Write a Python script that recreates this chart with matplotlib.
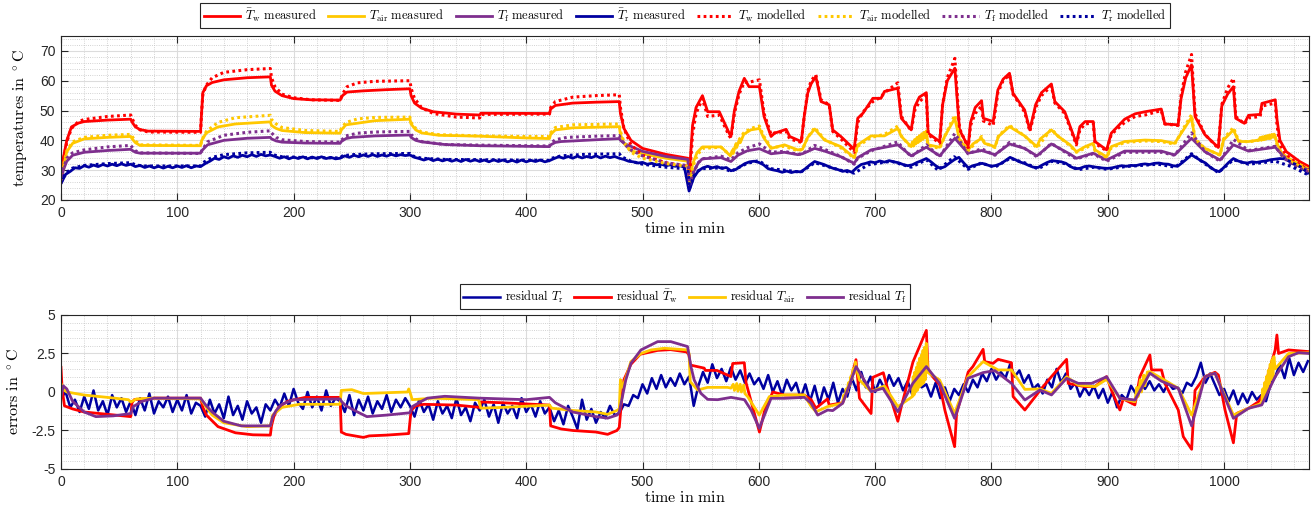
import numpy as np
import matplotlib
matplotlib.use('Agg')
import matplotlib.pyplot as plt
from matplotlib.ticker import MultipleLocator

plt.rcParams['mathtext.fontset'] = 'cm'
plt.rcParams['font.family'] = ['Liberation Sans', 'DejaVu Sans']
plt.rcParams['axes.unicode_minus'] = False

# ---------------- top: temperatures (time in min, value in degC) ----------------
tw_meas = [(0, 26), (2, 34), (5, 40), (9, 44.5), (15, 45.8), (20, 46.3), (40, 46.8), (60, 47.1), (61, 46.2), (64, 44.5),
           (68, 43.6), (75, 43.1), (120, 43.0), (121, 50), (122, 56), (125, 58.3), (130, 59.4), (140, 60.3), (160, 61.0),
           (180, 61.3), (181, 58.5), (184, 56.5), (190, 55), (200, 54), (215, 53.6), (240, 53.5), (242, 55), (246, 56.2),
           (260, 56.6), (280, 57), (300, 57.3), (301, 55), (304, 52.5), (310, 50.8), (320, 49.6), (340, 48.8), (360, 48.5),
           (361, 49.1), (420, 49.0), (421, 50.5), (425, 51.7), (440, 52.5), (460, 52.8), (480, 53.0), (481, 49), (484, 44),
           (490, 40), (500, 37.3), (520, 35.3), (539, 34), (540.5, 30), (543, 45), (546, 51), (551.5, 55), (556, 49.6),
           (566, 49.6), (574.5, 42.4), (576, 41.3), (579, 50), (583, 56.5), (587.5, 60.8), (591.5, 58), (600.5, 58),
           (604.5, 48), (610.5, 41.3), (613.5, 42.4), (623.5, 43.7), (626.5, 41.3), (636.5, 39.6), (639, 48), (642, 55.8),
           (645, 59), (649, 61.4), (653.5, 53), (660.5, 51.9), (663.5, 43.5), (670.5, 41.3), (682, 37), (685, 47.4),
           (689.5, 49.1), (698, 54.1), (705, 54.1), (708, 56.4), (719.5, 57.5), (722.5, 47.4), (731, 43.5), (734, 51.3),
           (738, 54.5), (744, 56), (745.5, 42.4), (755.5, 39.6), (758, 52), (762, 60), (768.5, 64.2), (772.5, 43.5),
           (780, 37.9), (782, 46), (786, 51), (791.5, 53.3), (793, 47.4), (801.5, 46.3), (805.5, 56.9), (810, 60.5),
           (815.5, 62.5), (818.5, 55.8), (828.5, 50.2), (833, 43.5), (838, 52), (843, 56), (851.5, 58.9), (854.5, 53),
           (863, 49.6), (873, 39), (876, 44.6), (880.5, 46.3), (887.5, 46.3), (889, 39.6), (899, 36.8), (903, 42.4),
           (914.5, 47.1), (923.5, 48.9), (932, 49.6), (946, 50.5), (949, 45.5), (960.5, 45.2), (963, 54), (967, 61),
           (972, 65.3), (975, 48), (983.5, 41.9), (995, 37.6), (998, 51.5), (1003, 55.5), (1008, 58), (1010, 47.4),
           (1017.5, 45.7), (1021, 48.4), (1031, 48.7), (1032.5, 52.4), (1044, 53.6), (1045.5, 47), (1048, 40),
           (1053.5, 36.2), (1065, 32.9), (1073, 31.2)]

tw_mod = [(0, 26), (2, 33), (5, 39.5), (9, 44), (15, 46.3), (20, 47), (40, 48), (60, 48.5), (61, 47.5), (64, 45),
          (68, 43.5), (75, 42.8), (120, 42.7), (121, 50), (122, 55.5), (125, 58.5), (130, 61), (140, 62.8), (160, 63.7),
          (180, 64.1), (181, 61), (184, 58), (190, 55.5), (200, 54.3), (215, 53.6), (240, 53.4), (242, 55.5), (246, 58),
          (255, 59.3), (270, 59.8), (300, 60.0), (301, 57.5), (304, 54), (310, 51), (320, 49), (340, 47.8), (360, 47.5),
          (361, 48.7), (420, 48.8), (421, 51), (425, 53), (440, 54.5), (460, 55), (480, 55.3), (481, 51), (484, 44),
          (490, 38.5), (500, 35), (520, 32.5), (539, 31.3), (540.5, 28), (543, 42), (546, 49), (551.5, 54), (556, 48),
          (566, 48.5), (574.5, 41.5), (576, 40.8), (579, 49), (583, 55.5), (587.5, 59.5), (591.5, 59.5), (600.5, 60.3),
          (604.5, 49), (610.5, 42), (613.5, 42.5), (623.5, 43), (626.5, 40.5), (636.5, 39.3), (639, 48), (642, 56.5),
          (645, 60), (649, 62), (653.5, 53.5), (660.5, 52), (663.5, 43), (670.5, 40.5), (682, 36), (685, 46),
          (689.5, 49.5), (698, 53), (705, 54.5), (708, 56), (719.5, 59.3), (722.5, 48), (731, 43.2), (734, 50),
          (738, 53), (744, 55), (745.5, 42), (755.5, 39), (758, 52), (762, 61), (768.5, 67.5), (772.5, 44), (780, 37.5),
          (782, 45), (786, 49), (791.5, 51.5), (793, 46.5), (801.5, 45), (805.5, 56), (810, 60), (815.5, 62),
          (818.5, 55.5), (828.5, 49.5), (833, 43), (838, 51), (843, 55), (851.5, 58.3), (854.5, 52.5), (863, 49),
          (873, 38.5), (876, 43.5), (880.5, 45.5), (887.5, 45.8), (889, 39), (899, 36.5), (903, 42), (914.5, 46),
          (923.5, 48), (932, 48.5), (946, 50), (949, 45.5), (960.5, 45), (963, 55), (967, 63), (972, 68.8), (975, 49),
          (983.5, 42), (995, 37.3), (998, 52), (1003, 57.5), (1008, 60.8), (1010, 48), (1017.5, 45.5), (1021, 47.5),
          (1031, 48), (1032.5, 51.5), (1044, 52.5), (1045.5, 45), (1048, 38.5), (1053.5, 35), (1065, 31.8), (1073, 30)]

tair_meas = [(0, 26), (2, 31), (5, 36.2), (10, 39), (20, 40.5), (40, 41), (60, 41.3), (61, 40.6), (64, 39.2), (68, 38.3),
             (120, 38.2), (121, 40), (125, 42.5), (135, 44.5), (150, 45.5), (180, 46.2), (181, 45), (185, 44),
             (190, 43.3), (210, 42.6), (240, 42.4), (241, 43.5), (245, 45.2), (270, 46.6), (300, 47.1), (301, 45.5),
             (305, 43.5), (310, 42.5), (325, 41.7), (360, 41.4), (400, 40.8), (420, 40.6), (421, 42), (425, 43.5),
             (440, 44.2), (480, 44.6), (481, 42), (484, 39), (490, 36.5), (500, 35.5), (520, 34), (539, 33),
             (540.5, 25), (543, 32), (547, 36), (551.5, 37.8), (567.5, 37.8), (575.5, 34.8), (577, 36.5), (578, 35.6),
             (580, 38.5), (581, 37.6), (583, 40), (584, 39.2), (587, 42), (593, 43.5), (600.5, 44), (604, 41),
             (610.5, 37.3), (622, 38.5), (633.5, 36.8), (637.5, 37), (642, 41), (648, 43.8), (656.5, 40.1),
             (670.5, 37.9), (682, 34.2), (685, 38.5), (696.5, 41.5), (708, 41.5), (719.5, 44), (722.5, 41.3),
             (731, 37.9), (732, 39.5), (733, 38.3), (734, 40.3), (735, 38.8), (736, 41), (737, 39.3), (738, 41.6),
             (739, 39.8), (740, 42.2), (741, 40.3), (742, 42.7), (743, 40.8), (744, 43.2), (745.5, 38.5), (755.5, 37.7),
             (760, 41.5), (768.5, 47.4), (772.5, 40.1), (780, 36.8), (784, 38.8), (791.5, 40.7), (794, 39), (803, 37.9),
             (806, 41.3), (815.5, 44.6), (828.5, 41.5), (839, 37.9), (842, 40.5), (851.5, 43.5), (857.5, 41.3),
             (867.5, 38.5), (873, 36.2), (880.5, 37.9), (887.5, 39), (889, 36.8), (899, 34.5), (903, 37.9),
             (914.5, 39.6), (932, 40.1), (946, 39.9), (957.5, 39), (965, 43.5), (972, 47.7), (975, 40.1), (983.5, 37.3),
             (996.5, 35.1), (999.5, 40.1), (1008, 43.5), (1012.5, 39.6), (1021, 39.6), (1030, 40.1), (1031, 41),
             (1032, 40), (1033, 41.2), (1034, 40.2), (1035, 41.4), (1036, 40.4), (1037, 41.6), (1038, 40.6),
             (1039, 41.8), (1040, 40.8), (1041, 42), (1042, 41), (1043, 42.1), (1044, 41.3), (1045.5, 39),
             (1049.5, 35.7), (1058, 33.4), (1073, 30.3)]

tair_mod = [(0, 26), (2, 31.5), (5, 36.5), (10, 39.5), (20, 41), (40, 41.7), (60, 42), (61, 41.4), (64, 39.8), (68, 38.5),
            (120, 38.3), (121, 40), (125, 43), (135, 46), (150, 47.6), (180, 48.4), (181, 47), (185, 45.5), (190, 44.3),
            (210, 43.3), (240, 43), (241, 44), (245, 46), (255, 47.2), (270, 47.7), (300, 47.8), (301, 46), (305, 44),
            (310, 42.8), (325, 41.9), (360, 41.5), (400, 41.3), (420, 41.3), (421, 42.5), (425, 44.3), (440, 45.2),
            (480, 45.5), (481, 43), (484, 39.5), (490, 36), (500, 34), (520, 32.2), (539, 31.3), (540.5, 26), (543, 31),
            (547, 35), (551.5, 37.3), (567.5, 37.7), (575.5, 35), (580, 38.5), (587, 42.5), (593, 44), (600.5, 44.8),
            (604, 41.5), (610.5, 37.6), (622, 38), (633.5, 36.5), (637.5, 37), (642, 41), (648, 44.3), (656.5, 40.3),
            (670.5, 37.5), (682, 34), (685, 38), (696.5, 41), (708, 42), (719.5, 44.8), (722.5, 41.5), (731, 37.5),
            (744, 42), (745.5, 38.3), (755.5, 37.3), (760, 41.5), (768.5, 48.5), (772.5, 40.5), (780, 36.5),
            (791.5, 41.3), (794, 39.2), (803, 37.6), (806, 41.5), (815.5, 45), (828.5, 41.5), (839, 37.5),
            (851.5, 43.8), (857.5, 41.3), (867.5, 38.2), (873, 36), (887.5, 38.7), (889, 36.5), (899, 34.2),
            (903, 37.5), (914.5, 39.3), (932, 39.8), (946, 39.6), (957.5, 38.7), (965, 44), (972, 48.6), (975, 40.5),
            (983.5, 37.3), (996.5, 35), (999.5, 40.5), (1008, 44.3), (1012.5, 39.8), (1021, 39.5), (1044, 41),
            (1045.5, 38.6), (1049.5, 35), (1058, 32.8), (1073, 29.7)]

tf_meas = [(0, 26), (2, 30), (5, 33), (10, 35), (20, 36), (40, 36.6), (60, 37), (61, 36.7), (64, 36), (68, 35.7),
           (120, 35.7), (121, 36.5), (126, 38.5), (140, 40), (160, 40.7), (180, 41), (181, 40.5), (185, 39.8),
           (190, 39.4), (210, 39.1), (240, 39), (241, 39.6), (245, 40.6), (250, 41), (270, 41.5), (300, 41.8),
           (301, 41), (305, 40), (310, 39.5), (330, 38.6), (360, 38.2), (420, 37.9), (421, 38.5), (425, 39.3),
           (430, 39.6), (460, 40.2), (480, 40.6), (481, 40), (485, 38.8), (490, 38), (500, 36.3), (520, 34.6),
           (539, 33.6), (540.5, 24.5), (544, 29.5), (548, 32.5), (551.5, 33.8), (567.5, 34.2), (576, 32.9), (582, 35),
           (590, 36.5), (600.5, 37.2), (610.5, 35.5), (622, 36), (633.5, 35.2), (637.5, 35.5), (648, 37.3),
           (656.5, 36.4), (670.5, 34.5), (682, 32.3), (685, 34.2), (696.5, 36.8), (719.5, 38.5), (722.5, 37.5),
           (731, 34.8), (744, 37.7), (755.5, 34.8), (768.5, 40.7), (779.8, 35.7), (791.5, 36.6), (803, 35.2),
           (815.5, 38.8), (828.5, 37.3), (839, 34.8), (851.5, 38.8), (867.5, 35.4), (873, 34), (887.5, 35.7),
           (899, 33.4), (914.5, 36.4), (946, 36.4), (957.5, 35.1), (972, 40.7), (983.5, 36.2), (996.5, 33.4),
           (1008, 38.5), (1021, 36.4), (1044, 37.7), (1049.5, 35.3), (1058, 32.3), (1073, 30)]

tf_mod = [(0, 26), (2, 30.5), (5, 34), (10, 35.8), (20, 36.8), (40, 37.8), (60, 38.3), (61, 37.8), (64, 36.5), (68, 35.8),
          (120, 35.6), (121, 36.5), (126, 39.5), (140, 41.7), (160, 42.7), (180, 43.2), (181, 42.5), (185, 41),
          (190, 40.2), (210, 39.6), (240, 39.4), (241, 40), (245, 41.5), (255, 42.4), (270, 42.8), (300, 43),
          (301, 42), (305, 40.5), (310, 39.6), (330, 38.6), (360, 38.4), (420, 38.1), (421, 39), (425, 40.2),
          (435, 41), (460, 41.4), (480, 41.6), (481, 40.5), (485, 38.5), (490, 36.8), (500, 34.8), (520, 32.5),
          (539, 31.5), (540.5, 25), (544, 29.5), (548, 32.5), (551.5, 33.8), (567.5, 34.7), (576, 33.5), (582, 35.8),
          (590, 37.5), (600.5, 38.8), (610.5, 36), (622, 36.3), (633.5, 35.3), (637.5, 35.5), (648, 38.3),
          (656.5, 37), (670.5, 34.6), (682, 32), (685, 34), (696.5, 36.5), (719.5, 39.5), (722.5, 38), (731, 34.5),
          (744, 38.5), (755.5, 34.5), (768.5, 42.3), (779.8, 35.5), (791.5, 37.2), (803, 35), (815.5, 39.3),
          (828.5, 37.3), (839, 34.5), (851.5, 39), (867.5, 35), (873, 33.8), (887.5, 35.5), (899, 33), (914.5, 36),
          (946, 36), (957.5, 35), (972, 42.5), (983.5, 36.2), (996.5, 33), (1008, 40.3), (1021, 36.6), (1044, 38),
          (1049.5, 35), (1058, 31.8), (1073, 29.3)]

# measured T_r, sampled every 4 min from 0 to 1072
tr_meas_t = np.arange(0, 1073, 4)
tr_meas_v = [25.5, 28.6, 29.6, 30.8, 30.6, 31.5, 31.0, 31.7, 31.2, 31.9, 31.4, 32.0, 31.5, 32.1, 31.6,
             32.0, 31.2, 31.6, 30.9, 31.4, 30.8, 31.3, 30.7, 31.3, 30.8, 31.4, 30.9, 31.5, 30.8, 31.4,
             31.2, 32.2, 33.0, 34.0, 33.6, 34.5, 34.0, 34.8, 34.3, 35.0, 34.5, 35.2, 34.6, 35.3, 34.8,
             35.1, 34.6, 34.0, 34.5, 33.8, 34.4, 33.9, 34.5, 33.8, 34.4, 33.9, 34.5, 33.9, 34.3, 33.8,
             34.0, 34.8, 34.3, 35.0, 34.5, 35.1, 34.6, 35.2, 34.6, 35.1, 34.7, 35.3, 34.8, 35.2, 34.9,
             35.1, 34.3, 33.9, 33.4, 33.9, 33.2, 33.7, 33.1, 33.6, 33.0, 33.5, 32.9, 33.6, 33.0, 33.5,
             32.9, 33.4, 32.8, 33.5, 32.9, 33.4, 32.8, 33.3, 32.7, 33.4, 32.8, 33.3, 32.9, 33.4, 32.8,
             33.2, 33.9, 34.5, 34.0, 34.6, 34.0, 34.7, 34.1, 34.6, 34.2, 34.8, 34.1, 34.7, 34.2, 34.6,
             34.0, 33.6, 33.0, 32.8, 32.4, 32.6, 32.0, 32.3, 31.8, 32.0, 31.5, 31.8, 31.3, 31.5, 31.0,
             23.0, 27.5, 29.8, 30.8, 31.3, 30.8, 31.2, 30.6, 30.9, 29.8, 30.2, 31.2, 32.2, 32.8, 33.0,
             32.6, 31.8, 30.5, 30.1, 29.8, 29.3, 29.7, 29.2, 29.6, 29.4, 30.5, 31.8, 32.9, 32.4, 31.9,
             31.2, 30.6, 30.2, 29.6, 29.9, 29.3, 30.8, 31.9, 32.3, 32.8, 32.5, 33.1, 32.7, 33.2, 32.8,
             32.5, 31.9, 31.5, 31.8, 32.6, 33.2, 33.9, 32.8, 31.5, 30.6, 31.2, 32.4, 33.5, 34.3, 32.5,
             30.8, 31.5, 31.9, 32.3, 31.8, 31.3, 31.6, 32.2, 33.2, 34.3, 33.6, 32.8, 32.3, 31.6, 31.0,
             30.9, 31.8, 32.6, 33.2, 33.0, 32.8, 32.3, 31.2, 30.5, 30.6, 31.2, 31.4, 31.1, 30.9, 30.7,
             30.6, 30.8, 31.2, 31.5, 31.3, 31.6, 31.5, 31.9, 32.1, 31.9, 32.3, 32.4, 32.1, 32.0, 31.5,
             31.3, 32.5, 33.8, 35.1, 34.2, 33.2, 32.4, 31.0, 30.0, 29.5, 31.0, 32.6, 33.9, 33.1, 32.6,
             32.4, 32.8, 32.6, 32.9, 33.1, 33.5, 33.7, 33.9, 33.8, 33.0, 32.2, 31.5, 30.5, 29.0]

tr_mod = [(0, 25.8), (4, 29), (10, 30.7), (20, 31.6), (40, 32.2), (60, 32.5), (64, 31.8), (70, 31.4), (120, 31.4),
          (122, 32.5), (130, 34.3), (140, 35.2), (160, 35.8), (180, 36), (182, 35.2), (190, 34.5), (210, 34.2),
          (240, 34.1), (242, 34.8), (250, 35.2), (270, 35.5), (300, 35.6), (302, 34.8), (310, 34), (330, 33.6),
          (360, 33.5), (420, 33.3), (422, 34), (430, 34.8), (450, 35.3), (480, 35.5), (482, 34.5), (490, 33),
          (500, 32), (520, 31), (539, 30.4), (540.5, 24), (544, 28), (548, 29.8), (552, 30.5), (568, 30.8),
          (576, 29.6), (590, 32.3), (600, 33.2), (610, 30.5), (622, 30), (636, 29.3), (648, 32.5), (670, 30),
          (682, 29), (694, 31.8), (714, 33), (722, 32), (731, 31), (744, 33.5), (754, 30), (768, 34.5), (780, 30.3),
          (791, 32.4), (803, 31), (816, 34), (829, 32.4), (840, 30.4), (852, 33), (863, 32.2), (875, 30.2),
          (888, 31), (899, 30.3), (915, 31.2), (943, 32), (958, 31), (972, 35.5), (984, 32), (995, 29.2),
          (1008, 33.5), (1021, 32), (1044, 33), (1058, 31.2), (1073, 28.3)]

# ---------------- bottom: residuals (degC) ----------------
res_tr_t = np.arange(0, 1073, 4)
res_tr_v = [-0.4, 0.0, -1.0, -0.5, -1.3, -0.3, -1.1, 0.1, -1.2, -0.6, -1.5, -0.2, -1.0, -0.4, -1.3,
            -0.6, -1.5, -0.4, -1.2, -0.1, -1.4, -0.6, -1.0, -0.3, -1.3, -0.5, -1.2, -0.2, -1.4, -0.7,
            -0.9, -1.6, -0.5, -1.4, -0.8, -1.7, -0.3, -1.5, -0.9, -1.8, -0.6, -1.4, -1.0, -2.0, -0.8,
            -1.2, -0.5, -1.0, -0.1, -0.9, 0.2, -0.7, -1.1, 0.0, -1.0, -0.3, -1.2, 0.1, -0.9, -0.4,
            -0.6, -1.3, -0.2, -1.5, -0.5, -1.2, -0.3, -1.4, -0.6, -1.1, -0.2, -1.3, -0.5, -1.0, -0.4,
            -0.9, -1.6, -0.5, -1.3, -0.8, -1.8, -0.6, -1.4, -0.9, -1.7, -0.4, -1.5, -1.0, -1.9, -0.7,
            -1.2, -0.5, -1.6, -0.8, -2.0, -0.7, -1.4, -0.9, -1.7, -0.4, -1.3, -0.8, -1.6, -0.6, -1.4,
            -1.0, -1.9, -1.2, -2.1, -0.9, -1.6, -2.4, -0.5, -1.8, -1.1, -2.0, -1.3, -1.7, -0.9, -1.5,
            -1.4, -0.8, -0.9, -0.2, -0.4, 0.5, -0.1, 0.9, 0.2, 1.1, 0.3, 0.9, 0.4, 1.2, 0.5,
            1.0, -0.9, 0.4, 1.3, 0.6, 1.8, 0.9, 1.5, 0.7, 1.6, 0.8, 1.4, 0.6, 1.2, 0.5,
            0.9, 0.2, 1.1, 0.0, 0.7, -0.2, 0.8, 0.1, 0.6, -0.4, 0.5, -0.6, 0.4, -0.8, 0.3,
            -0.5, 0.6, -0.7, 0.2, -0.3, 0.9, 0.1, 1.3, 0.3, 1.0, 0.0, 0.8, 0.2, 1.1, 0.4,
            0.9, 0.1, 0.7, -0.2, 0.8, 0.3, 0.5, -0.3, 0.6, -0.4, 0.3, -0.6, 0.2, -0.2, 0.5,
            0.0, 0.8, 0.3, 1.2, 0.7, 1.5, 0.8, 1.3, 0.9, 1.8, 1.0, 1.4, 0.6, 1.1, 0.2,
            0.5, -0.1, 0.8, 0.3, 1.5, 0.6, 1.2, 0.2, 0.6, -0.3, 0.3, -0.2, 0.4, -0.4, 0.2,
            -0.7, 0.0, -1.0, -0.2, -0.5, 0.4, -0.1, 0.6, 0.2, 0.7, 0.1, 0.5, 0.0, 0.6, 0.2,
            0.3, -0.1, 0.6, 0.4, 1.0, 1.9, 0.6, 1.2, 0.5, -0.2, 0.2, -0.6, 0.1, -0.8, -0.1,
            -0.7, 0.0, -0.5, -0.2, -0.6, 0.5, 1.0, 1.8, 0.9, 2.2, 1.1, 1.9, 1.3, 2.0]

res_tw = [(0, 1.6), (1, 0.2), (3, -0.9), (10, -1.1), (20, -1.3), (40, -1.45), (60, -1.6), (61, -0.7), (63, -0.5),
          (80, -0.4), (120, -0.4), (122, -1.0), (125, -1.5), (135, -2.25), (150, -2.65), (165, -2.78), (180, -2.8),
          (181, -2.2), (183, -1.6), (187, -1.0), (195, -0.6), (210, -0.35), (240, -0.35), (241, -2.6), (245, -2.75),
          (260, -2.95), (265, -2.85), (280, -2.8), (299, -2.7), (301, -1.2), (305, -0.9), (312, -0.8), (340, -0.85),
          (360, -1.0), (361, -0.65), (380, -0.7), (420, -0.85), (421, -2.2), (430, -2.4), (440, -2.5), (460, -2.6),
          (470, -2.75), (478, -2.5), (480, -2.3), (482, -0.5), (484, 0.8), (490, 1.8), (498, 2.45), (513, 2.7),
          (524, 2.75), (538, 2.6), (540, 2.4), (541, 1.75), (553, 1.55), (554, 1.4), (564, 1.4), (576, 1.0),
          (577.5, 1.85), (587.5, 1.9), (589, 0.6), (600.5, -2.6), (605, -1.2), (612, 0.0), (622, -0.2), (639, -0.2),
          (645, -0.5), (649, -1.05), (659, -0.45), (660.5, -0.85), (672, -0.7), (678, 0.5), (683.5, 2.1),
          (686.5, -0.4), (696.5, -1.4), (698, 0.95), (707, 1.25), (710, 0.4), (719.5, -1.9), (722.5, -0.95),
          (732.5, 1.95), (744, 4.0), (745.5, 1.35), (755.5, 0.45), (760, -1.2), (768.3, -3.55), (770, -1.4),
          (780, 1.3), (784, 1.65), (792.8, 2.77), (794.2, 1.97), (801.4, 1.86), (805.7, 2.12), (817.2, 1.9),
          (818.6, -0.3), (828.7, -1.17), (838.8, -0.19), (841.6, 0.1), (851.6, 1.0), (864.6, 2.12), (866, 0.56),
          (880, 0.35), (889, 0.35), (899, 1.0), (903.2, 0.1), (910.4, -1.17), (913.3, -0.45), (923.3, -0.84),
          (927.6, 0.99), (936.2, 2.4), (937.6, 1.43), (946.2, 1.43), (949.1, 0.56), (960.6, -1.17), (964.9, -2.9),
          (972.1, -3.72), (975, 0.1), (983.6, 1.0), (992.2, 1.28), (995.1, 1.1), (1000.8, -1.17), (1008, -3.3),
          (1010.9, -1.39), (1021, -1.06), (1029.6, -0.63), (1032.4, -0.3), (1043.9, 2.73), (1045.4, 3.7),
          (1046.8, 2.5), (1055.4, 2.73), (1073, 2.62)]

res_tair = [(0, 0.55), (3, 0.1), (5, 0.0), (20, -0.2), (40, -0.35), (58, -0.5), (60, -0.65), (65, -0.45), (80, -0.4),
            (120, -0.45), (125, -1.0), (130, -1.5), (140, -2.0), (160, -2.25), (180, -2.2), (182, -1.5), (190, -1.0),
            (205, -0.8), (240, -0.8), (241, 0.1), (250, 0.15), (260, -0.1), (280, -0.05), (298, 0.0), (299, 0.2),
            (300, 0.0), (302, -0.5), (320, -0.4), (359, -0.5), (361, -1.05), (380, -1.0), (420, -0.85),
            (422, -1.05), (440, -1.2), (460, -1.3), (470, -1.45), (478, -1.2), (480, -1.1), (481, 0.8), (483, 0.3),
            (486, 1.0), (490, 1.97), (498.6, 2.5), (507.3, 2.73), (518.8, 2.84), (538.7, 2.73), (540, 2.5),
            (541, 0.67), (547.4, 0.13), (556, 0.3), (573, 0.3), (576, 0.25), (578, 0.5), (579, 0.1), (581, 0.55),
            (582, 0.05), (584, 0.5), (585, 0.0), (587, 0.45), (588, -0.1), (590.4, -0.3), (600.4, -1.5), (609, -0.3),
            (622, -0.19), (639, -0.19), (645, -0.95), (649.2, -1.28), (659, -0.95), (672, -0.73), (673, -0.2),
            (674, -0.4), (675, 0.2), (676, 0.0), (677, 0.6), (678, 0.4), (679, 1.0), (680, 0.8), (681, 1.5),
            (682, 1.2), (683, 1.95), (684, 1.5), (686.5, 0.78), (696.6, 0.02), (708, 0.39), (719.5, -0.95),
            (732, -0.3), (732.7, 1.0), (733.4, -0.2), (734.1, 1.3), (734.8, 0.0), (735.5, 1.6), (736.2, 0.1),
            (736.9, 1.9), (737.6, 0.3), (738.3, 2.2), (739, 0.4), (739.7, 2.4), (740.4, 0.5), (741.1, 2.7),
            (741.8, 0.6), (742.5, 2.9), (743.2, 0.8), (743.9, 3.16), (745.4, 1.26), (755.4, 0.78), (768.3, -1.39),
            (779.8, 0.99), (792.8, 1.97), (805.7, 1.43), (817.2, 1.43), (828.7, 0.17), (841.6, 0.2), (851.6, -0.09),
            (864.6, 0.99), (874.6, 0.45), (889, 0.35), (899, 0.82), (910.4, -0.41), (923.3, -0.63), (925, 0.3),
            (926, -0.3), (928, 0.8), (929, 0.0), (931, 1.1), (932, 0.4), (934, 1.3), (936.2, 1.32), (946.2, 0.89),
            (960.6, 0.24), (972.1, -1.5), (983.6, 1.0), (992.2, 1.22), (1008, -1.5), (1021, -1.06), (1032.4, -0.73),
            (1033.2, 0.2), (1034, -0.4), (1034.8, 0.6), (1035.6, -0.1), (1036.4, 1.0), (1037.2, 0.2), (1038, 1.4),
            (1038.8, 0.5), (1039.6, 1.8), (1040.4, 0.8), (1041.2, 2.1), (1042, 1.0), (1042.8, 2.3), (1043.9, 1.5),
            (1055.4, 2.5), (1073, 2.55)]

res_tf = [(0, -0.3), (2, 0.4), (5, 0.2), (10, -0.6), (20, -1.3), (30, -1.6), (45, -1.55), (60, -1.4), (62, -0.95),
          (70, -0.6), (80, -0.4), (120, -0.4), (125, -0.9), (130, -1.3), (140, -1.9), (155, -2.2), (180, -2.2),
          (182, -1.6), (185, -1.2), (190, -0.8), (200, -0.5), (240, -0.45), (241, -0.6), (245, -0.9), (255, -1.3),
          (263, -1.6), (280, -1.5), (300, -1.35), (302, -0.95), (310, -0.6), (315, -0.4), (330, -0.28), (360, -0.4),
          (400, -0.5), (420, -0.35), (425, -0.7), (440, -1.3), (460, -1.6), (470, -1.7), (478, -1.5), (480, -1.3),
          (485.6, 0.78), (490, 1.86), (498.6, 2.73), (513, 3.27), (524.3, 3.27), (538.7, 2.95), (541.6, 1.65),
          (544.4, 0.78), (550.2, -0.09), (556, -0.48), (564.6, -0.5), (576.1, -0.35), (587.6, -0.5), (593.3, -1.17),
          (600.4, -2.36), (610.5, -0.41), (622, -0.41), (639.2, -0.35), (644.9, -0.73), (650.6, -1.5),
          (659.2, -1.17), (663.5, -1.21), (672.1, -0.73), (683.6, 1.65), (696.6, 0.02), (706.7, 0.24),
          (719.5, -1.28), (732.4, 0.56), (744, 1.65), (755.4, 0.56), (768.3, -1.71), (779.8, 0.89), (792.8, 1.26),
          (802.8, 1.39), (817.2, 0.56), (828.7, -0.52), (841.6, 0.13), (851.6, -0.19), (864.6, 0.89), (874.6, 0.56),
          (886.1, 0.56), (899, 0.99), (910.4, -0.41), (923.3, -0.52), (936.2, 1.22), (946.2, 0.7), (960.6, 0.24),
          (972.1, -2.2), (983.6, 1.0), (992.2, 1.22), (1008, -1.71), (1021, -1.06), (1032.4, -0.84), (1043.9, 0.99),
          (1055.4, 2.29), (1064, 2.55), (1073, 2.5)]

RED = '#ff0000'
YEL = '#ffc800'
PUR = '#7e2f8e'
BLU = '#0000a0'
DOT = (0, (0.9, 1.1))
GRAY = '#262626'


def xy(pairs):
    a = np.array(pairs, dtype=float)
    return a[:, 0], a[:, 1]


def style(ax):
    ax.set_xlim(0, 1073)
    ax.xaxis.set_major_locator(MultipleLocator(100))
    ax.xaxis.set_minor_locator(MultipleLocator(20))
    ax.grid(True, which='major', color='#dcdcdc', lw=0.8, ls='-')
    ax.grid(True, which='minor', color='#c4c4c4', lw=0.6, ls=':')
    ax.set_axisbelow(True)
    ax.tick_params(which='major', direction='in', top=True, right=True, length=5, width=0.8,
                   color=GRAY, labelcolor=GRAY, labelsize=10, pad=4)
    ax.tick_params(which='minor', length=0)
    for s in ax.spines.values():
        s.set_color(GRAY)
        s.set_linewidth(0.8)
    ax.set_xlabel(r'$\mathrm{time\ in\ min}$', fontsize=11.5, labelpad=1)


fig = plt.figure(figsize=(13.14, 5.12), dpi=100)
ax1 = fig.add_axes([0.0464, 0.6094, 0.9498, 0.3203])
ax2 = fig.add_axes([0.0464, 0.0840, 0.9498, 0.3008])

# top panel
ax1.plot(*xy(tw_meas), color=RED, lw=2, label=r'$\bar{T}_\mathrm{w}\ \mathrm{measured}$')
ax1.plot(*xy(tair_meas), color=YEL, lw=2, label=r'$T_\mathrm{air}\ \mathrm{measured}$')
ax1.plot(*xy(tf_meas), color=PUR, lw=2, label=r'$T_\mathrm{f}\ \mathrm{measured}$')
ax1.plot(tr_meas_t, tr_meas_v, color=BLU, lw=2, label=r'$\bar{T}_\mathrm{r}\ \mathrm{measured}$')
ax1.plot(*xy(tw_mod), color=RED, lw=2.2, ls=DOT, label=r'$T_\mathrm{w}\ \mathrm{modelled}$')
ax1.plot(*xy(tair_mod), color=YEL, lw=2.2, ls=DOT, label=r'$T_\mathrm{air}\ \mathrm{modelled}$')
ax1.plot(*xy(tf_mod), color=PUR, lw=2.2, ls=DOT, label=r'$T_\mathrm{f}\ \mathrm{modelled}$')
ax1.plot(*xy(tr_mod), color=BLU, lw=2.2, ls=DOT, label=r'$T_\mathrm{r}\ \mathrm{modelled}$')

style(ax1)
ax1.set_ylim(20, 75)
ax1.set_yticks([20, 30, 40, 50, 60, 70])
ax1.yaxis.set_minor_locator(MultipleLocator(2))
ax1.set_ylabel(r'$\mathrm{temperatures\ in\ ^\circ C}$', fontsize=11.5, labelpad=7)
leg1 = ax1.legend(loc='lower center', bbox_to_anchor=(0.5, 1.05), ncol=8, fontsize=9, frameon=True,
                  fancybox=False, edgecolor=GRAY, framealpha=1, borderaxespad=0, handlelength=2.9,
                  columnspacing=0.9, handletextpad=0.4, borderpad=0.3)
leg1.get_frame().set_linewidth(0.8)

# bottom panel
ax2.plot(res_tr_t, res_tr_v, color=BLU, lw=1.8, label=r'$\mathrm{residual}\ T_\mathrm{r}$')
ax2.plot(*xy(res_tw), color=RED, lw=2, label=r'$\mathrm{residual}\ \bar{T}_\mathrm{w}$')
ax2.plot(*xy(res_tair), color=YEL, lw=2, label=r'$\mathrm{residual}\ T_\mathrm{air}$')
ax2.plot(*xy(res_tf), color=PUR, lw=2, label=r'$\mathrm{residual}\ T_\mathrm{f}$')

style(ax2)
ax2.set_ylim(-5, 5)
ax2.set_yticks([-5, -2.5, 0, 2.5, 5])
ax2.set_yticklabels(['-5', '-2.5', '0', '2.5', '5'])
ax2.yaxis.set_minor_locator(MultipleLocator(0.5))
ax2.set_ylabel(r'$\mathrm{errors\ in\ ^\circ C}$', fontsize=11.5, labelpad=7)
leg2 = ax2.legend(loc='lower center', bbox_to_anchor=(0.5, 1.04), ncol=4, fontsize=9, frameon=True,
                  fancybox=False, edgecolor=GRAY, framealpha=1, borderaxespad=0, handlelength=2.9,
                  columnspacing=0.9, handletextpad=0.4, borderpad=0.3)
leg2.get_frame().set_linewidth(0.8)

fig.savefig('out.png', dpi=100)
